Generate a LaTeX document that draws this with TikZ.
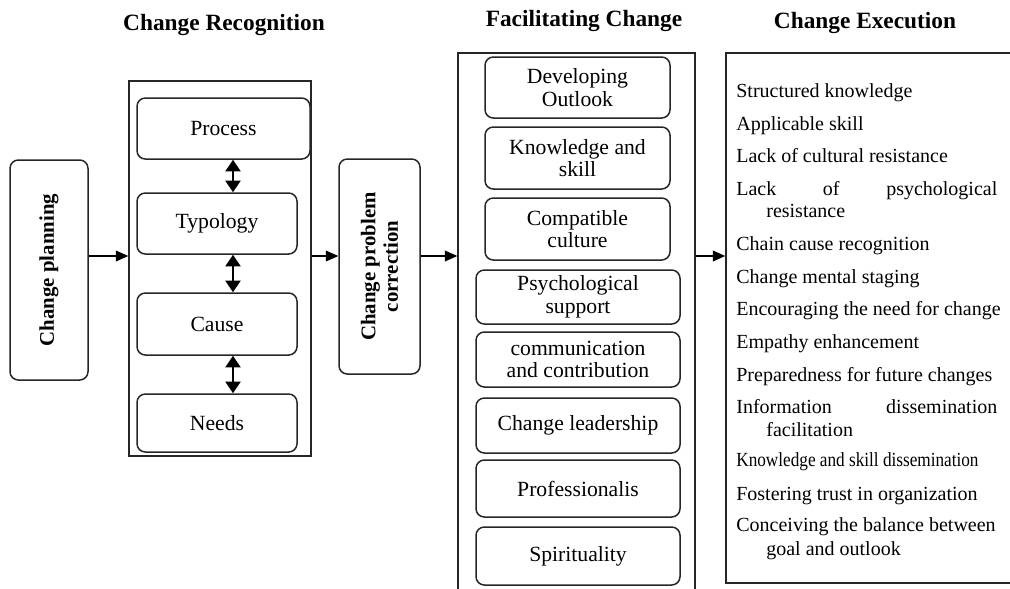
\documentclass[tikz,border=0pt]{standalone}
\usepackage{fontspec}
\setmainfont{Liberation Serif}
\usepackage{tikz}
\usetikzlibrary{arrows.meta,calc,positioning}
\tikzset{
    >={Triangle[length=7.5pt,width=6.5pt]},
    kasse/.style={
           rectangle, rounded corners=5pt,
           draw=black!85, line width=0.9pt,
           inner sep=2pt,
           align=center,
           font=\fontsize{13}{13.5}\selectfont},
    ramme/.style={
           rectangle,
           draw=black!85, line width=0.9pt},
    lodret/.style={
           kasse,
           font=\fontsize{12.5}{13.5}\selectfont\bfseries},
    titel/.style={
           font=\fontsize{14}{16}\selectfont\bfseries},
    punktliste/.style={
           anchor=base west, inner sep=0pt,
           font=\fontsize{12}{14}\selectfont},
    pilen/.style={
           ->,
           line width=0.8pt},
    dobbeltpil/.style={
           {Triangle[length=7pt,width=9pt]}-{Triangle[length=7pt,width=9pt]},
           line width=1.4pt}
}

\begin{document}
\begin{tikzpicture}[x=0.6pt, y=-0.6pt]
        \useasboundingbox (0,0) rectangle (1010,588);
        \coordinate (midt) at (0,256);
        \coordinate (akse) at (233,0);
        % titles
        \node[titel] (cap1) at (224,25) {Change Recognition};
        \node[titel] (cap2) at (584,21) {Facilitating Change};
        \node[titel] (cap3) at (865,23) {Change Execution};
        % planning and correction
        \node[lodret, minimum width=46.8pt, minimum height=132pt] (plan) at (49,270) {};
        \node[rotate=90, font=\fontsize{12.5}{13.5}\selectfont\bfseries] at (plan.center) {Change planning};
        \node[lodret, minimum width=48.6pt, minimum height=129pt] (corr) at (379.5,266.5) {};
        \node[rotate=90, align=center, font=\fontsize{12.5}{13.5}\selectfont\bfseries] at (corr.center) {Change problem\\correction};
        % change recognition
        \node[ramme, minimum width=109.2pt, minimum height=225pt] (rec) at (220,268.5) {};
        \node[kasse, minimum width=103.8pt, minimum height=36.6pt] (proc) at (223.5,128.5) {Process};
        \node[kasse, minimum width=96pt, minimum height=36.6pt] (typ) at (217,223.5) {Typology};
        \node[kasse, minimum width=96pt, minimum height=37.2pt] (cause) at (217,324) {Cause};
        \node[kasse, minimum width=96pt, minimum height=34.8pt] (needs) at (217,423) {Needs};
        \draw[dobbeltpil] (proc.south -| akse) -- (typ.north -| akse);
        \draw[dobbeltpil] (typ.south -| akse) -- (cause.north -| akse);
        \draw[dobbeltpil] (cause.south -| akse) -- (needs.north -| akse);
        % facilitating change
        \node[ramme, minimum width=142.2pt, minimum height=323.4pt] (fac) at (576.5,322.5) {};
        \node[kasse, minimum width=111pt, minimum height=36.6pt] (out) at (577.5,87.5) {Developing\\Outlook};
        \node[kasse, minimum width=111pt, minimum height=37.2pt] (know) at (577.5,158) {Knowledge and\\skill};
        \node[kasse, minimum width=111pt, minimum height=37.2pt] (cult) at (577.5,229) {Compatible\\culture};
        \node[kasse, minimum width=122.4pt, minimum height=32.4pt] (psy) at (578,297) {Psychological\\support};
        \node[kasse, minimum width=122.4pt, minimum height=33pt] (comm) at (578,359.5) {communication\\and contribution};
        \node[kasse, minimum width=122.4pt, minimum height=33pt] (lead) at (578,425.5) {Change leadership};
        \node[kasse, minimum width=122.4pt, minimum height=34.2pt] (prof) at (578,488.5) {Professionalis};
        \node[kasse, minimum width=122.4pt, minimum height=34.8pt] (spir) at (578,556) {Spirituality};
        % change execution
        \node[ramme, minimum width=177pt, minimum height=318pt] (exe) at (873.5,318) {};
        \node[punktliste] (e1) at (736,97.5) {Structured knowledge};
        \node[punktliste] (e2) at (736,130) {Applicable skill};
        \node[punktliste] (e3) at (736,162) {Lack of cultural resistance};
        \node[punktliste] (e4) at (736,195) {\makebox[156.6pt][s]{Lack of psychological}};
        \node[punktliste] (e4b) at (766,217) {resistance};
        \node[punktliste] (e5) at (736,250) {Chain cause recognition};
        \node[punktliste] (e6) at (736,283) {Change mental staging};
        \node[punktliste] (e7) at (736,315) {Encouraging the need for change};
        \node[punktliste] (e8) at (736,348) {Empathy enhancement};
        \node[punktliste] (e9) at (736,381.5) {Preparedness for future changes};
        \node[punktliste] (e10) at (736,413) {\makebox[156.6pt][s]{Information dissemination}};
        \node[punktliste] (e10b) at (766,436) {facilitation};
        \node[punktliste] (e11) at (736,466.5) {\scalebox{0.86}[1]{Knowledge and skill dissemination}};
        \node[punktliste] (e12) at (736,500) {Fostering trust in organization};
        \node[punktliste] (e13) at (736,531.5) {Conceiving the balance between};
        \node[punktliste] (e13b) at (766,555) {goal and outlook};
        % flow
        \draw[pilen] (plan.east |- midt) -- (rec.west |- midt);
        \draw[pilen] (rec.east |- midt) -- (corr.west |- midt);
        \draw[pilen] (corr.east |- midt) -- (fac.west |- midt);
        \draw[pilen] (fac.east |- midt) -- (exe.west |- midt);
    \end{tikzpicture}
\end{document}
